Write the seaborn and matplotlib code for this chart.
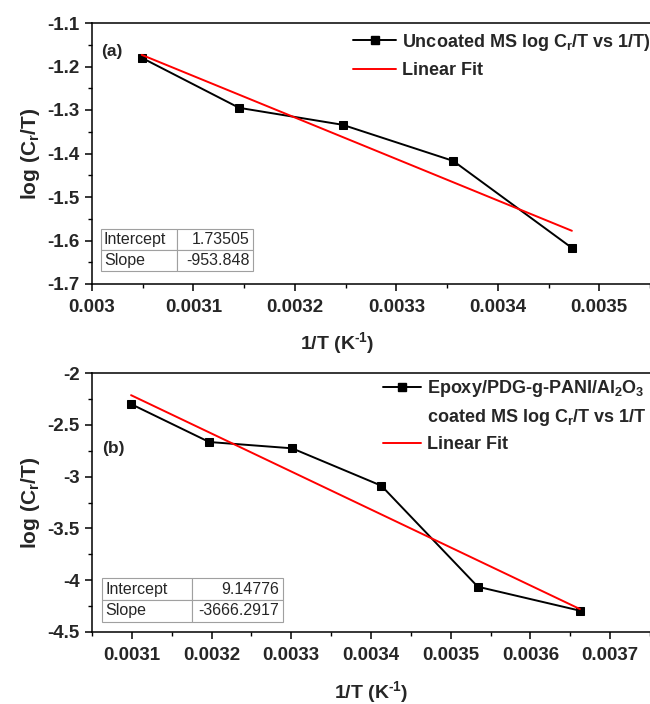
import numpy as np
import pandas as pd
import matplotlib
matplotlib.use("Agg")
import matplotlib.pyplot as plt
from matplotlib.lines import Line2D
from matplotlib.ticker import FixedLocator, MultipleLocator, FormatStrFormatter
import seaborn as sns

# ---- data (a) ----
a_x = [0.003049, 0.003145, 0.003247, 0.003356, 0.003473]
a_y = [-1.180, -1.295, -1.334, -1.417, -1.617]
a_intercept = 1.73505
a_slope = -953.848
a_xticks = [0.003, 0.0031, 0.0032, 0.0033, 0.0034, 0.0035]
a_yticks = [-1.7, -1.6, -1.5, -1.4, -1.3, -1.2, -1.1]
a_label = "Uncoated MS log C$_r$/T vs 1/T)"

# ---- data (b) ----
b_x = [0.003099, 0.003197, 0.003301, 0.003413, 0.003534, 0.003662]
b_y = [-2.30, -2.666, -2.727, -3.088, -4.063, -4.294]
b_intercept = 9.14776
b_slope = -3666.2917
b_xticks = [0.0031, 0.0032, 0.0033, 0.0034, 0.0035, 0.0036, 0.0037]
b_yticks = [-4.5, -4, -3.5, -3, -2.5, -2]
b_label1 = "Epoxy/PDG-g-PANI/Al$_2$O$_3$"
b_label2 = "coated MS log C$_r$/T vs 1/T"

table_a = [["Intercept", "1.73505"], ["Slope", "-953.848"]]
table_b = [["Intercept", "9.14776"], ["Slope", "-3666.2917"]]

sns.set_theme(style="white")
plt.rcParams['font.family'] = ['Liberation Sans', 'DejaVu Sans']
plt.rcParams['font.weight'] = 'bold'
plt.rcParams['mathtext.fontset'] = 'custom'
plt.rcParams['mathtext.rm'] = 'Liberation Sans:bold'
plt.rcParams['mathtext.it'] = 'Liberation Sans:bold'
plt.rcParams['mathtext.bf'] = 'Liberation Sans:bold'

fig = plt.figure(figsize=(6.5, 7.04), dpi=100)
W, H = 650, 704
def axbox(l, t, r, b):
    return [l / W, 1 - b / H, (r - l) / W, (b - t) / H]

ax_a = fig.add_axes(axbox(92, 23, 650, 284))
ax_b = fig.add_axes(axbox(92, 373, 650, 632))

XLABEL = "1/T (K$^{\\text{-}1}$)"

def style(ax, xticks, yticks, xlim, ylim, xminor, yminor):
    ax.set_xlim(*xlim)
    ax.set_ylim(*ylim)
    ax.xaxis.set_major_locator(FixedLocator(xticks))
    ax.yaxis.set_major_locator(FixedLocator(yticks))
    ax.xaxis.set_minor_locator(MultipleLocator(xminor))
    ax.yaxis.set_minor_locator(MultipleLocator(yminor))
    ax.xaxis.set_major_formatter(FormatStrFormatter('%g'))
    ax.yaxis.set_major_formatter(FormatStrFormatter('%g'))
    for s in ax.spines.values():
        s.set_color('black')
        s.set_linewidth(1.1)
    ax.spines['right'].set_visible(False)
    ax.tick_params(axis='x', which='major', pad=6)
    ax.tick_params(axis='y', which='major', pad=4)
    ax.tick_params(which='major', direction='out', length=5, width=1.1,
                   labelsize=13.5, bottom=True, left=True, top=False, right=False, color='black')
    ax.tick_params(which='minor', direction='out', length=2.8, width=1.0,
                   bottom=True, left=True, top=False, right=False, color='black')
    for lbl in ax.get_xticklabels() + ax.get_yticklabels():
        lbl.set_fontweight('bold')
    ax.set_ylabel("log (C$_r$/T)", fontsize=15, fontweight='bold')
    ax.set_xlabel(XLABEL, fontsize=14, fontweight='bold')
    ax.grid(False)

def table(ax, bbox, cells):
    t = ax.table(cellText=cells, bbox=bbox, cellLoc='left', colWidths=[0.5, 0.5])
    t.auto_set_font_size(False)
    for (r, c), cell in t.get_celld().items():
        cell.set_edgecolor('#a0a0a0')
        cell.set_linewidth(0.8)
        cell.set_facecolor('white')
        txt = cell.get_text()
        txt.set_fontsize(11.5)
        txt.set_fontweight('normal')
        if c == 1:
            txt.set_ha('right')
            cell._loc = 'right'
        cell.PAD = 0.04

# ---- panel (a) ----
df_a = pd.DataFrame({"x": a_x, "y": a_y})
fit_a = pd.DataFrame({"x": [min(a_x), max(a_x)]})
fit_a["y"] = a_intercept + a_slope * fit_a["x"]
sns.lineplot(data=df_a, x="x", y="y", ax=ax_a, color='black', marker='s', markersize=6,
             markeredgecolor='black', linewidth=1.4, zorder=3)
sns.lineplot(data=fit_a, x="x", y="y", ax=ax_a, color='#ff0000', linewidth=1.4, zorder=4)
style(ax_a, a_xticks, a_yticks, (0.003, 0.00355), (-1.7, -1.1), 0.00005, 0.05)
ax_a.xaxis.set_label_coords(0.44, -0.178)
ax_a.yaxis.set_label_coords(-0.09, 0.5)
ax_a.text(0.016, 0.889, "(a)", transform=ax_a.transAxes, fontsize=12.5, fontweight='bold',
          ha='left', va='center')
table(ax_a, [0.016, 0.05, 0.272, 0.16], table_a)
h_a = [Line2D([], [], color='black', marker='s', markersize=6, linewidth=1.4),
       Line2D([], [], color='#ff0000', linewidth=1.4)]
leg = ax_a.legend(h_a, [a_label, "Linear Fit"], loc='upper left', bbox_to_anchor=(0.468, 0.967),
                  frameon=False, fontsize=13, handlelength=2.4, handletextpad=0.3,
                  labelspacing=0.52, borderpad=0, borderaxespad=0)
for t in leg.get_texts():
    t.set_fontweight('bold')

# ---- panel (b) ----
df_b = pd.DataFrame({"x": b_x, "y": b_y})
fit_b = pd.DataFrame({"x": [min(b_x), max(b_x)]})
fit_b["y"] = b_intercept + b_slope * fit_b["x"]
sns.lineplot(data=df_b, x="x", y="y", ax=ax_b, color='black', marker='s', markersize=6,
             markeredgecolor='black', linewidth=1.4, zorder=3)
sns.lineplot(data=fit_b, x="x", y="y", ax=ax_b, color='#ff0000', linewidth=1.4, zorder=4)
style(ax_b, b_xticks, b_yticks, (0.00305, 0.00375), (-4.5, -2), 0.00005, 0.25)
ax_b.xaxis.set_label_coords(0.50, -0.18)
ax_b.yaxis.set_label_coords(-0.09, 0.5)
ax_b.text(0.018, 0.71, "(b)", transform=ax_b.transAxes, fontsize=12.5, fontweight='bold',
          ha='left', va='center')
table(ax_b, [0.018, 0.039, 0.324, 0.169], table_b)
h_b = [Line2D([], [], color='black', marker='s', markersize=6, linewidth=1.4),
       Line2D([], [], color='none', linewidth=0),
       Line2D([], [], color='#ff0000', linewidth=1.4)]
leg = ax_b.legend(h_b, [b_label1, b_label2, "Linear Fit"], loc='upper left',
                  bbox_to_anchor=(0.522, 0.98), frameon=False, fontsize=13,
                  handlelength=2.1, handletextpad=0.3, labelspacing=0.45,
                  borderpad=0, borderaxespad=0)
for t in leg.get_texts():
    t.set_fontweight('bold')

fig.savefig("out.png", dpi=100)
